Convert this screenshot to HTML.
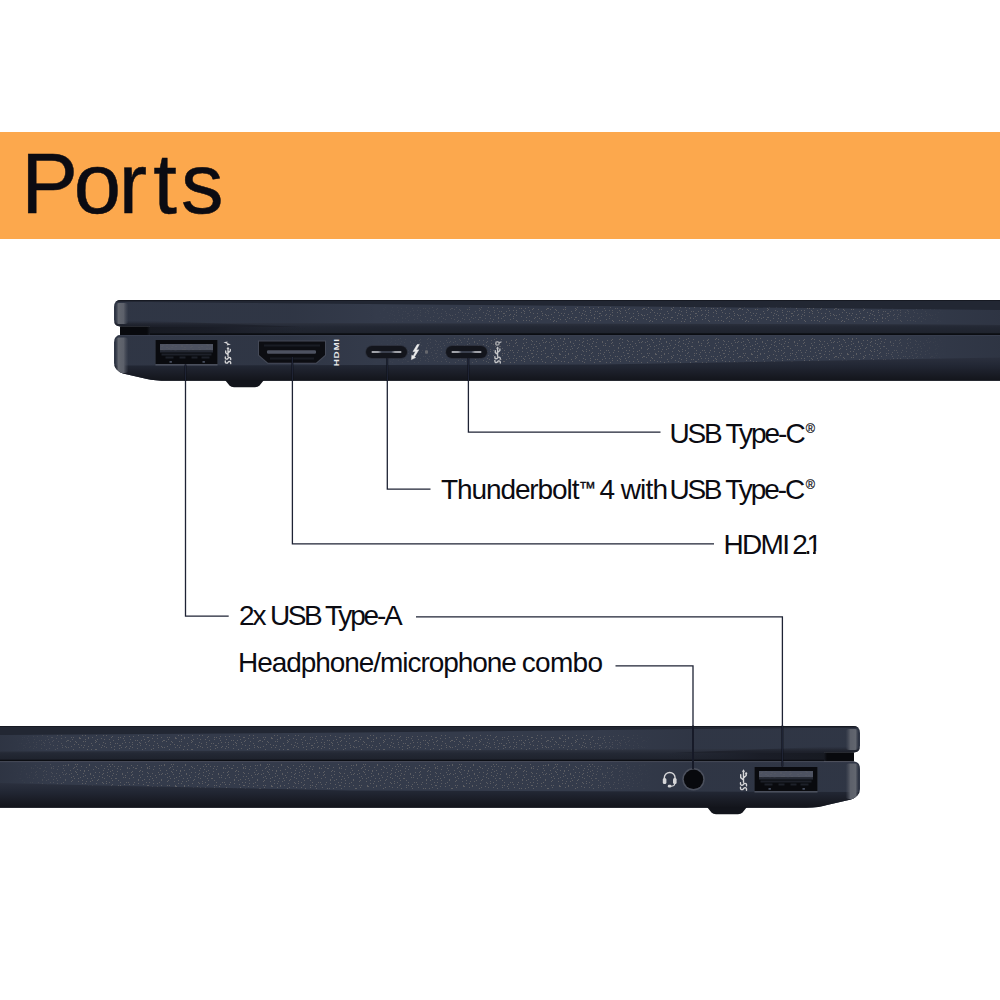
<!DOCTYPE html>
<html lang="en">
<head>
<meta charset="utf-8">
<title>Ports</title>
<style>
html,body{margin:0;padding:0;background:#fff;}
body{width:1000px;height:1000px;overflow:hidden;position:relative;font-family:"Liberation Sans",sans-serif;}
svg{position:absolute;left:0;top:0;display:block;}
text{font-family:"Liberation Sans",sans-serif;fill:#0b0b12;}
.lbl{font-size:28px;}
.ln{fill:none;stroke:#1e2334;stroke-width:1.3;}
.ic{fill:none;stroke:#d6d6d8;stroke-width:1;stroke-linecap:round;stroke-linejoin:round;}
.icf{fill:#d6d6d8;stroke:none;}
</style>
</head>
<body>
<svg width="1000" height="1000" viewBox="0 0 1000 1000">

<defs>
  <pattern id="noise" width="96" height="48" patternUnits="userSpaceOnUse"><path d="M2 0h1v1h-1zM7 2h1v1h-1zM8 0h1v1h-1zM12 1h1v1h-1zM16 2h1v1h-1zM21 0h1v1h-1zM24 1h1v1h-1zM31 0h1v1h-1zM33 0h1v1h-1zM39 0h1v1h-1zM40 0h1v1h-1zM44 2h1v1h-1zM51 0h1v1h-1zM53 0h1v1h-1zM57 1h1v1h-1zM63 0h1v1h-1zM64 2h1v1h-1zM70 2h1v1h-1zM73 0h1v1h-1zM77 1h1v1h-1zM80 2h1v1h-1zM84 2h1v1h-1zM88 2h1v1h-1zM93 1h1v1h-1zM3 4h1v1h-1zM7 5h1v1h-1zM11 4h1v1h-1zM14 3h1v1h-1zM17 5h1v1h-1zM21 3h1v1h-1zM26 5h1v1h-1zM31 4h1v1h-1zM35 4h1v1h-1zM36 3h1v1h-1zM43 3h1v1h-1zM46 3h1v1h-1zM51 4h1v1h-1zM52 5h1v1h-1zM56 5h1v1h-1zM62 4h1v1h-1zM66 5h1v1h-1zM71 5h1v1h-1zM75 3h1v1h-1zM76 4h1v1h-1zM83 5h1v1h-1zM84 3h1v1h-1zM90 5h1v1h-1zM95 4h1v1h-1zM3 8h1v1h-1zM6 6h1v1h-1zM11 7h1v1h-1zM13 8h1v1h-1zM16 7h1v1h-1zM20 6h1v1h-1zM26 6h1v1h-1zM29 7h1v1h-1zM35 7h1v1h-1zM36 6h1v1h-1zM43 7h1v1h-1zM46 6h1v1h-1zM51 8h1v1h-1zM54 8h1v1h-1zM59 7h1v1h-1zM63 6h1v1h-1zM65 6h1v1h-1zM69 6h1v1h-1zM73 8h1v1h-1zM77 6h1v1h-1zM83 8h1v1h-1zM85 7h1v1h-1zM90 6h1v1h-1zM93 7h1v1h-1zM2 11h1v1h-1zM6 9h1v1h-1zM8 10h1v1h-1zM15 10h1v1h-1zM19 10h1v1h-1zM20 10h1v1h-1zM27 9h1v1h-1zM29 9h1v1h-1zM33 10h1v1h-1zM37 9h1v1h-1zM42 11h1v1h-1zM44 9h1v1h-1zM48 11h1v1h-1zM53 11h1v1h-1zM56 10h1v1h-1zM60 9h1v1h-1zM65 11h1v1h-1zM71 9h1v1h-1zM74 10h1v1h-1zM78 10h1v1h-1zM80 9h1v1h-1zM87 10h1v1h-1zM91 10h1v1h-1zM94 9h1v1h-1zM1 12h1v1h-1zM6 14h1v1h-1zM10 13h1v1h-1zM13 14h1v1h-1zM16 12h1v1h-1zM22 12h1v1h-1zM24 14h1v1h-1zM30 14h1v1h-1zM32 14h1v1h-1zM38 14h1v1h-1zM42 12h1v1h-1zM46 12h1v1h-1zM50 14h1v1h-1zM53 14h1v1h-1zM57 12h1v1h-1zM63 14h1v1h-1zM65 12h1v1h-1zM71 13h1v1h-1zM72 12h1v1h-1zM78 13h1v1h-1zM82 12h1v1h-1zM86 13h1v1h-1zM90 13h1v1h-1zM92 12h1v1h-1zM0 15h1v1h-1zM7 15h1v1h-1zM10 15h1v1h-1zM15 17h1v1h-1zM16 16h1v1h-1zM22 17h1v1h-1zM24 17h1v1h-1zM28 16h1v1h-1zM33 16h1v1h-1zM37 16h1v1h-1zM42 15h1v1h-1zM47 16h1v1h-1zM51 17h1v1h-1zM52 17h1v1h-1zM57 15h1v1h-1zM61 15h1v1h-1zM65 17h1v1h-1zM71 17h1v1h-1zM73 17h1v1h-1zM79 17h1v1h-1zM82 15h1v1h-1zM85 15h1v1h-1zM88 17h1v1h-1zM92 17h1v1h-1zM1 19h1v1h-1zM5 18h1v1h-1zM8 19h1v1h-1zM13 19h1v1h-1zM17 20h1v1h-1zM22 19h1v1h-1zM27 18h1v1h-1zM28 20h1v1h-1zM34 19h1v1h-1zM39 20h1v1h-1zM41 20h1v1h-1zM45 20h1v1h-1zM48 19h1v1h-1zM53 20h1v1h-1zM56 18h1v1h-1zM61 18h1v1h-1zM67 20h1v1h-1zM68 20h1v1h-1zM72 19h1v1h-1zM79 18h1v1h-1zM80 18h1v1h-1zM85 19h1v1h-1zM88 18h1v1h-1zM95 20h1v1h-1zM0 21h1v1h-1zM7 22h1v1h-1zM9 23h1v1h-1zM14 22h1v1h-1zM19 23h1v1h-1zM21 23h1v1h-1zM26 23h1v1h-1zM29 22h1v1h-1zM33 22h1v1h-1zM36 22h1v1h-1zM43 22h1v1h-1zM44 23h1v1h-1zM49 22h1v1h-1zM52 21h1v1h-1zM58 21h1v1h-1zM61 23h1v1h-1zM66 21h1v1h-1zM70 21h1v1h-1zM75 21h1v1h-1zM76 22h1v1h-1zM83 21h1v1h-1zM85 21h1v1h-1zM91 23h1v1h-1zM95 22h1v1h-1zM3 24h1v1h-1zM6 25h1v1h-1zM8 26h1v1h-1zM14 24h1v1h-1zM18 26h1v1h-1zM23 25h1v1h-1zM24 25h1v1h-1zM30 26h1v1h-1zM34 26h1v1h-1zM36 24h1v1h-1zM41 24h1v1h-1zM44 25h1v1h-1zM50 24h1v1h-1zM53 25h1v1h-1zM57 25h1v1h-1zM62 25h1v1h-1zM65 26h1v1h-1zM71 26h1v1h-1zM74 24h1v1h-1zM78 24h1v1h-1zM81 25h1v1h-1zM84 25h1v1h-1zM88 26h1v1h-1zM92 25h1v1h-1zM0 29h1v1h-1zM5 27h1v1h-1zM10 27h1v1h-1zM15 27h1v1h-1zM18 29h1v1h-1zM23 28h1v1h-1zM25 27h1v1h-1zM29 27h1v1h-1zM33 28h1v1h-1zM36 27h1v1h-1zM41 28h1v1h-1zM46 29h1v1h-1zM49 28h1v1h-1zM55 29h1v1h-1zM57 28h1v1h-1zM62 27h1v1h-1zM66 27h1v1h-1zM68 27h1v1h-1zM73 29h1v1h-1zM79 27h1v1h-1zM83 27h1v1h-1zM87 29h1v1h-1zM91 29h1v1h-1zM95 29h1v1h-1zM2 32h1v1h-1zM5 30h1v1h-1zM10 30h1v1h-1zM13 31h1v1h-1zM18 30h1v1h-1zM21 30h1v1h-1zM24 32h1v1h-1zM30 31h1v1h-1zM33 30h1v1h-1zM36 32h1v1h-1zM43 32h1v1h-1zM46 32h1v1h-1zM49 32h1v1h-1zM54 30h1v1h-1zM59 30h1v1h-1zM61 31h1v1h-1zM67 30h1v1h-1zM70 31h1v1h-1zM74 32h1v1h-1zM78 30h1v1h-1zM80 31h1v1h-1zM85 31h1v1h-1zM89 30h1v1h-1zM94 31h1v1h-1zM0 34h1v1h-1zM6 35h1v1h-1zM9 33h1v1h-1zM12 33h1v1h-1zM18 33h1v1h-1zM21 34h1v1h-1zM24 34h1v1h-1zM28 34h1v1h-1zM34 35h1v1h-1zM37 33h1v1h-1zM41 35h1v1h-1zM47 34h1v1h-1zM51 33h1v1h-1zM54 35h1v1h-1zM57 33h1v1h-1zM63 35h1v1h-1zM65 35h1v1h-1zM68 35h1v1h-1zM73 33h1v1h-1zM76 33h1v1h-1zM81 35h1v1h-1zM86 33h1v1h-1zM91 34h1v1h-1zM92 35h1v1h-1zM0 38h1v1h-1zM5 37h1v1h-1zM10 36h1v1h-1zM15 36h1v1h-1zM16 38h1v1h-1zM20 38h1v1h-1zM27 37h1v1h-1zM28 37h1v1h-1zM33 38h1v1h-1zM37 36h1v1h-1zM43 37h1v1h-1zM47 36h1v1h-1zM51 38h1v1h-1zM54 36h1v1h-1zM57 36h1v1h-1zM61 37h1v1h-1zM66 38h1v1h-1zM70 38h1v1h-1zM73 36h1v1h-1zM79 36h1v1h-1zM83 37h1v1h-1zM84 38h1v1h-1zM89 38h1v1h-1zM95 37h1v1h-1zM2 40h1v1h-1zM7 40h1v1h-1zM8 41h1v1h-1zM13 40h1v1h-1zM16 40h1v1h-1zM20 40h1v1h-1zM27 39h1v1h-1zM31 40h1v1h-1zM35 39h1v1h-1zM37 39h1v1h-1zM40 39h1v1h-1zM46 40h1v1h-1zM49 41h1v1h-1zM54 39h1v1h-1zM58 39h1v1h-1zM63 40h1v1h-1zM67 39h1v1h-1zM69 39h1v1h-1zM75 41h1v1h-1zM79 40h1v1h-1zM82 41h1v1h-1zM85 40h1v1h-1zM90 40h1v1h-1zM94 39h1v1h-1zM2 42h1v1h-1zM6 43h1v1h-1zM11 42h1v1h-1zM13 44h1v1h-1zM16 44h1v1h-1zM22 43h1v1h-1zM26 42h1v1h-1zM31 43h1v1h-1zM32 43h1v1h-1zM39 43h1v1h-1zM40 43h1v1h-1zM44 42h1v1h-1zM50 44h1v1h-1zM53 42h1v1h-1zM58 43h1v1h-1zM62 42h1v1h-1zM66 43h1v1h-1zM68 44h1v1h-1zM75 44h1v1h-1zM77 44h1v1h-1zM80 42h1v1h-1zM87 43h1v1h-1zM89 44h1v1h-1zM94 43h1v1h-1zM0 47h1v1h-1zM5 45h1v1h-1zM11 46h1v1h-1zM14 46h1v1h-1zM18 46h1v1h-1zM22 46h1v1h-1zM25 46h1v1h-1zM31 47h1v1h-1zM35 45h1v1h-1zM37 47h1v1h-1zM41 45h1v1h-1zM45 47h1v1h-1zM51 47h1v1h-1zM53 46h1v1h-1zM58 46h1v1h-1zM63 45h1v1h-1zM65 45h1v1h-1zM68 45h1v1h-1zM74 47h1v1h-1zM76 46h1v1h-1zM81 46h1v1h-1zM86 47h1v1h-1zM89 45h1v1h-1zM95 46h1v1h-1z" fill="#5d5e63"/></pattern>
  <clipPath id="one"><rect x="700" y="520" width="109.2" height="40"/><rect x="806" y="530" width="12" height="21.2"/><rect x="813.1" y="551" width="2.6" height="3.2"/></clipPath>

  <!-- body silhouettes -->
  <clipPath id="topLidClip"><path d="M1000 300 H121 Q114 300 114 307 V319.5 Q114 326.5 121 326.5 H150 V335 H1000 Z"/></clipPath>
  <clipPath id="topBaseClip"><path d="M1000 335 H121 Q114 335 114 342.5 V363 Q114 370 123 373.5 L147 379 Q154 380.8 168 380.8 H1000 Z"/></clipPath>
  <clipPath id="botLidClip"><path d="M0 726 H853 Q860 726 860 733 V745.5 Q860 752.5 853 752.5 H824 V761.4 H0 Z"/></clipPath>
  <clipPath id="botBaseClip"><path d="M0 761.4 H853 Q860 761.4 860 769 V789 Q860 796 851 799.5 L827 805 Q820 807.5 806 807.8 H0 Z"/></clipPath>

  <linearGradient id="bandT" gradientUnits="userSpaceOnUse" x1="0" y1="323" x2="0" y2="334">
    <stop offset="0" stop-color="#2d323f"/><stop offset="0.35" stop-color="#232834"/><stop offset="1" stop-color="#1e222c"/>
  </linearGradient>
  <linearGradient id="bandB" gradientUnits="userSpaceOnUse" x1="0" y1="750" x2="0" y2="760.5">
    <stop offset="0" stop-color="#2d323f"/><stop offset="0.35" stop-color="#232834"/><stop offset="1" stop-color="#1e222c"/>
  </linearGradient>
  <linearGradient id="lidSh" gradientUnits="objectBoundingBox" x1="0" y1="0" x2="0" y2="1">
    <stop offset="0" stop-color="#1c1f29" stop-opacity="0"/><stop offset="1" stop-color="#1c1f29"/>
  </linearGradient>
  <linearGradient id="dimT" gradientUnits="userSpaceOnUse" x1="114" y1="0" x2="1000" y2="0">
    <stop offset="0" stop-color="#10131b" stop-opacity="0.13"/><stop offset="0.2" stop-color="#10131b" stop-opacity="0.13"/><stop offset="0.3" stop-color="#10131b" stop-opacity="0"/>
    <stop offset="0.88" stop-color="#10131b" stop-opacity="0"/><stop offset="1" stop-color="#10131b" stop-opacity="0.16"/>
  </linearGradient>
  <linearGradient id="dimB" gradientUnits="userSpaceOnUse" x1="0" y1="0" x2="860" y2="0">
    <stop offset="0" stop-color="#10131b" stop-opacity="0.16"/><stop offset="0.06" stop-color="#10131b" stop-opacity="0"/>
    <stop offset="0.7" stop-color="#10131b" stop-opacity="0"/><stop offset="0.8" stop-color="#10131b" stop-opacity="0.13"/><stop offset="1" stop-color="#10131b" stop-opacity="0.13"/>
  </linearGradient>
  <linearGradient id="lowT" x1="0" y1="0" x2="0" y2="1">
    <stop offset="0" stop-color="#2b303e"/>
    <stop offset="0.3" stop-color="#222734"/>
    <stop offset="0.55" stop-color="#1b1e28"/>
    <stop offset="0.8" stop-color="#14161d"/>
    <stop offset="1" stop-color="#0b0d12"/>
  </linearGradient>
  <linearGradient id="gapT" x1="0" y1="0" x2="1" y2="0">
    <stop offset="0" stop-color="#08090d"/>
    <stop offset="0.9" stop-color="#08090d"/>
    <stop offset="1" stop-color="#171a22"/>
  </linearGradient>
  <linearGradient id="gapT2" x1="0" y1="0" x2="1" y2="0">
    <stop offset="0" stop-color="#171a22"/>
    <stop offset="0.4" stop-color="#1a1d27"/>
    <stop offset="1" stop-color="#1f232e" stop-opacity="0"/>
  </linearGradient>
  <linearGradient id="gapB2" x1="1" y1="0" x2="0" y2="0">
    <stop offset="0" stop-color="#171a22"/>
    <stop offset="0.4" stop-color="#1a1d27"/>
    <stop offset="1" stop-color="#1f232e" stop-opacity="0"/>
  </linearGradient>
  <linearGradient id="gapB" x1="1" y1="0" x2="0" y2="0">
    <stop offset="0" stop-color="#08090d"/>
    <stop offset="0.9" stop-color="#08090d"/>
    <stop offset="1" stop-color="#171a22"/>
  </linearGradient>
  <linearGradient id="hlL" x1="0" y1="0" x2="1" y2="0">
    <stop offset="0" stop-color="#50545f" stop-opacity="0"/>
    <stop offset="0.22" stop-color="#62666f"/>
    <stop offset="0.62" stop-color="#5c606a"/>
    <stop offset="1" stop-color="#4a4f5c" stop-opacity="0"/>
  </linearGradient>
  <linearGradient id="hlR" x1="1" y1="0" x2="0" y2="0">
    <stop offset="0" stop-color="#50545f" stop-opacity="0"/>
    <stop offset="0.22" stop-color="#62666f"/>
    <stop offset="0.62" stop-color="#5c606a"/>
    <stop offset="1" stop-color="#4a4f5c" stop-opacity="0"/>
  </linearGradient>
  <linearGradient id="fadeR" x1="0" y1="0" x2="1" y2="0">
    <stop offset="0" stop-color="#000"/><stop offset="0.29" stop-color="#000"/><stop offset="0.45" stop-color="#fff"/><stop offset="0.86" stop-color="#fff"/><stop offset="0.94" stop-color="#000"/>
  </linearGradient>
  <linearGradient id="fadeL" x1="0" y1="0" x2="1" y2="0">
    <stop offset="0" stop-color="#000"/><stop offset="0.015" stop-color="#000"/><stop offset="0.09" stop-color="#fff"/><stop offset="0.68" stop-color="#fff"/><stop offset="0.76" stop-color="#000"/>
  </linearGradient>
  <mask id="mT" maskUnits="userSpaceOnUse" x="0" y="0" width="1000" height="1000"><rect x="114" y="290" width="886" height="100" fill="url(#fadeR)"/></mask>
  <mask id="mB" maskUnits="userSpaceOnUse" x="0" y="0" width="1000" height="1000"><rect x="0" y="716" width="860" height="100" fill="url(#fadeL)"/></mask>
  <linearGradient id="tongue" x1="0" y1="0" x2="1" y2="0">
    <stop offset="0" stop-color="#a6a8ae"/><stop offset="0.22" stop-color="#9a9ca3"/><stop offset="0.34" stop-color="#3a3f4d"/>
    <stop offset="0.66" stop-color="#3a3f4d"/><stop offset="0.78" stop-color="#9a9ca3"/><stop offset="1" stop-color="#a6a8ae"/>
  </linearGradient>
</defs>


<rect x="0" y="132" width="1000" height="107" fill="#fca84d"/>
<text x="21.3 73.8 118.7 153.3 181" y="212.6" font-size="85" style="stroke:#0b0b12;stroke-width:0.5px">Ports</text>


<g id="topLaptop">
  <g clip-path="url(#topLidClip)">
    <rect x="110" y="298" width="890" height="40" fill="#343b4b"/>
    <rect x="110" y="307" width="890" height="15" fill="url(#noise)" mask="url(#mT)"/>
    <rect x="110" y="298" width="890" height="26" fill="url(#dimT)"/>
    <!-- top dark band (tapered) -->
    <path d="M110 299 H1000 V310 L600 306 L150 302 L110 302 Z" fill="#222733"/>
    <rect x="110" y="299.5" width="890" height="1.3" fill="#14171e"/>
    <!-- lower dark band -->
    <path d="M110 322.8 L1000 324.5 V335 H110 Z" fill="url(#bandT)"/>
    <rect x="148" y="326.5" width="160" height="6.9" fill="url(#gapT2)"/>
    <path d="M110 320.5 L150 320.8 L300 326.8 H110 Z" fill="url(#lidSh)"/>
    <rect x="150" y="333.3" width="850" height="1.7" fill="#0b0d12"/>
    <rect x="115.5" y="303" width="13" height="21" rx="3.5" fill="url(#hlL)"/>
  </g>
  <rect x="120" y="326.5" width="30" height="8.6" fill="url(#gapT)"/>
  <g clip-path="url(#topBaseClip)">
    <rect x="110" y="334" width="890" height="50" fill="#343b4b"/>
    <rect x="110" y="338" width="890" height="25" fill="url(#noise)" mask="url(#mT)"/>
    <rect x="110" y="335" width="890" height="32" fill="url(#dimT)"/>
    <rect x="110" y="335" width="890" height="1" fill="#383e4e"/>
    <!-- lower shading (tapered) -->
    <path d="M110 365.5 L600 364.5 L1000 357.5 V385 H110 Z" fill="url(#lowT)"/>
    <rect x="115.5" y="337.5" width="13" height="35.5" rx="3.5" fill="url(#hlL)"/>
  </g>
  <path d="M225 380 H264 L259.5 385.6 Q258 387.2 255 387.2 H234 Q231 387.2 229.5 385.6 Z" fill="#12141b"/>
</g>


<g id="botLaptop">
  <g clip-path="url(#botLidClip)">
    <rect x="0" y="724" width="864" height="40" fill="#343b4b"/>
    <rect x="0" y="735" width="864" height="15" fill="url(#noise)" mask="url(#mB)"/>
    <rect x="0" y="724" width="864" height="28" fill="url(#dimB)"/>
    <path d="M0 725 H864 V728 H800 L350 732.5 L0 735 Z" fill="#222733"/>
    <rect x="0" y="725.5" width="864" height="1.3" fill="#14171e"/>
    <path d="M0 751.5 L864 748.8 V761.4 H0 Z" fill="url(#bandB)"/>
    <rect x="666" y="752.5" width="160" height="7.3" fill="url(#gapB2)"/>
    <path d="M864 746.5 L824 746.8 L674 752.8 H864 Z" fill="url(#lidSh)"/>
    <rect x="0" y="759.7" width="824" height="1.7" fill="#0b0d12"/>
    <rect x="845.5" y="729" width="13" height="21" rx="3.5" fill="url(#hlR)"/>
  </g>
  <rect x="824" y="752.5" width="30" height="9" fill="url(#gapB)"/>
  <g clip-path="url(#botBaseClip)">
    <rect x="0" y="760" width="864" height="50" fill="#343b4b"/>
    <rect x="0" y="764" width="864" height="25" fill="url(#noise)" mask="url(#mB)"/>
    <rect x="0" y="761" width="864" height="32" fill="url(#dimB)"/>
    <rect x="0" y="761.4" width="864" height="1" fill="#383e4e"/>
    <path d="M0 783 L100 785.5 L350 790.5 L864 792 V812 H0 Z" fill="url(#lowT)"/>
    <rect x="845.5" y="763.5" width="13" height="35.5" rx="3.5" fill="url(#hlR)"/>
  </g>
  <path d="M707 807 H747 L742.5 812.6 Q741 814.2 738 814.2 H716 Q713 814.2 711.5 812.6 Z" fill="#12141b"/>
</g>

<g transform="translate(155.5 340)"><rect x="0" y="0" width="62" height="25.6" fill="#4a4f5c"/><rect x="0" y="0" width="62" height="24" fill="#090a0e"/><rect x="4.5" y="4" width="53" height="6.5" fill="#4d5261"/><rect x="4.5" y="4" width="53" height="6.5" fill="url(#noise)" opacity="0.6"/><rect x="4.5" y="10.5" width="53" height="2" fill="#242833"/><path d="M6 14.5 H56 M10 17.5 h8 M24 17.5 h6 M36 17.5 h6 M46 17.5 h8" stroke="#1d2029" stroke-width="2.2" fill="none"/><rect x="14" y="21" width="2.4" height="1.8" fill="#454c5c"/><rect x="47" y="21" width="2.4" height="1.8" fill="#454c5c"/></g>
<g id="hdmiPort">
  <path d="M258 340.5 H326 V355.5 L316.5 363.8 H267.5 L258 355.5 Z" fill="#444957"/>
  <path d="M259 341.5 H325 V355 L316 362.8 H268 L259 355 Z" fill="#0c0d12"/>
  <rect x="267" y="350.3" width="49" height="3.4" rx="1.2" fill="#4d5261"/>
  <path d="M264 345.5 H320 M270 358.5 H314" stroke="#191c24" stroke-width="2" fill="none"/>
</g>
<text transform="translate(338.9 366.2) rotate(-90)" font-size="7.6" font-weight="bold" style="fill:#e9e9ea;letter-spacing:0.55px" textLength="28" lengthAdjust="spacingAndGlyphs">HDMI</text>
<g transform="translate(366 346)"><rect x="-0.8" y="-0.8" width="42.6" height="13.6" rx="6.8" fill="#2b2f3b"/><rect x="0" y="0" width="41" height="12" rx="6.0" fill="#13151c"/><rect x="5.5" y="5.1" width="30" height="1.8" rx="0.9" fill="url(#tongue)"/></g><g transform="translate(446 346)"><rect x="-0.8" y="-0.8" width="42.6" height="13.6" rx="6.8" fill="#2b2f3b"/><rect x="0" y="0" width="41" height="12" rx="6.0" fill="#13151c"/><rect x="5.5" y="5.1" width="30" height="1.8" rx="0.9" fill="url(#tongue)"/></g><g transform="translate(754.5 767)"><rect x="0" y="0" width="63" height="25.6" fill="#4a4f5c"/><rect x="0" y="0" width="63" height="24" fill="#090a0e"/><rect x="4.5" y="4" width="54" height="6.5" fill="#4d5261"/><rect x="4.5" y="4" width="54" height="6.5" fill="url(#noise)" opacity="0.6"/><rect x="4.5" y="10.5" width="54" height="2" fill="#242833"/><path d="M6 14.5 H57 M10 17.5 h8 M24 17.5 h6 M36 17.5 h6 M46 17.5 h8" stroke="#1d2029" stroke-width="2.2" fill="none"/><rect x="14" y="21" width="2.4" height="1.8" fill="#454c5c"/><rect x="48" y="21" width="2.4" height="1.8" fill="#454c5c"/></g>
<circle cx="693.5" cy="779.3" r="11.2" fill="#4b505d"/>
<circle cx="693.5" cy="779.3" r="9.7" fill="#08090d"/>

<!-- SS USB + charge icon (top-left port) -->
<path class="icf" d="M223.5 342.3 L227.6 341.4 L227.2 342.9 L230.9 344.6 L226.8 345.4 L227.2 343.9 Z"/>
<g class="ic" transform="translate(228 356)" style="stroke-width:1.35">
  <path d="M0 0.6 V-7.4 M0 -1.2 L-2.3 -3.2 V-5 M0 -3 L2.3 -5 V-6.6"/>
  <path d="M-1.5 -7 h3 l-1.5 -2.2z" class="icf"/>
  <path d="M2.7 3.6 Q3 1 0.6 1.6 L-0.6 3 Q-3 3.6 -2.7 1"/>
  <path d="M2.7 7.6 Q3 5 0.6 5.6 L-0.6 7 Q-3 7.6 -2.7 5"/>
</g>
<!-- thunderbolt -->
<path class="icf" style="fill:#ececec;stroke:#ececec;stroke-width:0.5;stroke-linejoin:round" d="M419.3 344.4 L417.2 344.6 L413 351.6 L415.5 351.4 L413.2 356 L411.8 355.2 L411.5 359.6 L415.6 357.6 L414.4 356.9 L418.8 349.8 L416.3 350 Z"/>
<rect x="425" y="350.2" width="3" height="3.5" rx="0.9" fill="#65676d"/>
<!-- SS USB + power icon (usb-c) -->
<g class="ic" transform="translate(497.6 355.6)" style="stroke-width:1.35;stroke:#c6c7ca">
  <path d="M0 0.6 V-7.4 M0 -1.2 L-2.3 -3.2 V-5 M0 -3 L2.3 -5 V-6.6"/>
  <path d="M-1.5 -7 h3 l-1.5 -2.2z" style="fill:#c6c7ca;stroke:none"/>
  <path d="M2.7 3.6 Q3 1 0.6 1.6 L-0.6 3 Q-3 3.6 -2.7 1"/>
  <path d="M2.7 7.4 Q3 4.8 0.6 5.4 L-0.6 6.8 Q-3 7.4 -2.7 4.8"/>
  <circle cx="-0.2" cy="-12.2" r="1.7" style="stroke:#9c9ea3;stroke-width:1.5"/>
  <path d="M1.6 -13 L3.4 -13.6" style="stroke:#b4b5b9;stroke-width:1.3"/>
</g>
<!-- headset icon -->
<g class="ic" transform="translate(669.7 778.5)" style="stroke-width:1.4">
  <path d="M-5.4 1 V-0.6 A5.4 5.4 0 0 1 5.4 -0.6 V1"/>
  <rect x="-6.9" y="-0.6" width="3.6" height="6" rx="1.5" class="icf"/>
  <rect x="3.3" y="-0.6" width="3.6" height="6" rx="1.5" class="icf"/>
  <path d="M5.2 5 Q4.8 7.7 1.4 7.7" style="stroke-width:1.1"/>
  <rect x="-1.9" y="6.3" width="3.6" height="2.6" rx="1.2" class="icf"/>
</g>
<!-- SS USB icon (bottom) -->
<g class="ic" transform="translate(743.5 781.6)" style="stroke-width:1.4">
  <path d="M0 0.6 V-10 M0 -1.6 L-2.8 -4 V-7 M0 -3.6 L2.7 -6 V-7.6"/>
  <path d="M-1.6 -9.8 h3.2 l-1.6 -2.6z" class="icf"/>
  <circle cx="2.7" cy="-8.2" r="1.1" class="icf"/>
  <path d="M3 4.2 Q3.4 1.2 0.7 1.9 L-0.7 3.5 Q-3.4 4.2 -3 1.2"/>
  <path d="M3 8.6 Q3.4 5.6 0.7 6.3 L-0.7 7.9 Q-3.4 8.6 -3 5.6"/>
</g>


<path d="M185.5 364.5 V381 M292.4 357 V381 M387.3 358 V381 M468.4 358 V381 M782.4 725.5 V766.5 M693 725.5 V769" fill="none" stroke="#07080c" stroke-width="1.7"/>
<path class="ln" d="M185.5 364.5 V616.1 H228.7"/>
<path class="ln" d="M292.4 357 V543.8 H714"/>
<path class="ln" d="M387.3 358 V489.2 H430.5"/>
<path class="ln" d="M468.4 358 V432.1 H660.5"/>
<path class="ln" d="M416 616.9 H782.4 V766.5"/>
<path class="ln" d="M615.5 665.9 H693 V769"/>


<g class="lbl">
<text y="442.6"><tspan x="669.6" style="letter-spacing:-2.3px">USB</tspan> <tspan x="725.4" style="letter-spacing:-2px">Type-C</tspan><tspan x="805.7" y="432.7" style="font-size:12.6px;fill:#15161c;stroke:#15161c;stroke-width:0.2px">®</tspan></text>
<text y="499.3"><tspan x="441" style="letter-spacing:-1.1px">Thunderbolt</tspan><tspan x="578.8" y="493.5" style="font-size:17.5px;stroke:#0b0b12;stroke-width:0.35px">™</tspan> <tspan x="599.6" y="499.3">4</tspan> <tspan x="620.7" y="499.3" style="letter-spacing:-0.8px">with</tspan> <tspan x="669.6" y="499.3" style="letter-spacing:-2.4px">USB</tspan> <tspan x="725.3" y="499.3" style="letter-spacing:-2.04px">Type-C</tspan><tspan x="805.7" y="489.4" style="font-size:12.6px;fill:#15161c;stroke:#15161c;stroke-width:0.2px">®</tspan></text>
<text y="553.8" clip-path="url(#one)"><tspan x="723.5" style="letter-spacing:-1.67px">HDMI</tspan> <tspan x="792.3 804.2 806.4">2.1</tspan></text>
<text y="625.4"><tspan x="239" style="letter-spacing:-2px">2x</tspan> <tspan x="270" style="letter-spacing:-2.5px">USB</tspan> <tspan x="325" style="letter-spacing:-2.2px">Type-A</tspan></text>
<text y="672.4"><tspan x="238" style="letter-spacing:-1.05px">Headphone/microphone</tspan> <tspan x="521.8" style="letter-spacing:-0.7px">combo</tspan></text>
</g>

</svg>
</body>
</html>
